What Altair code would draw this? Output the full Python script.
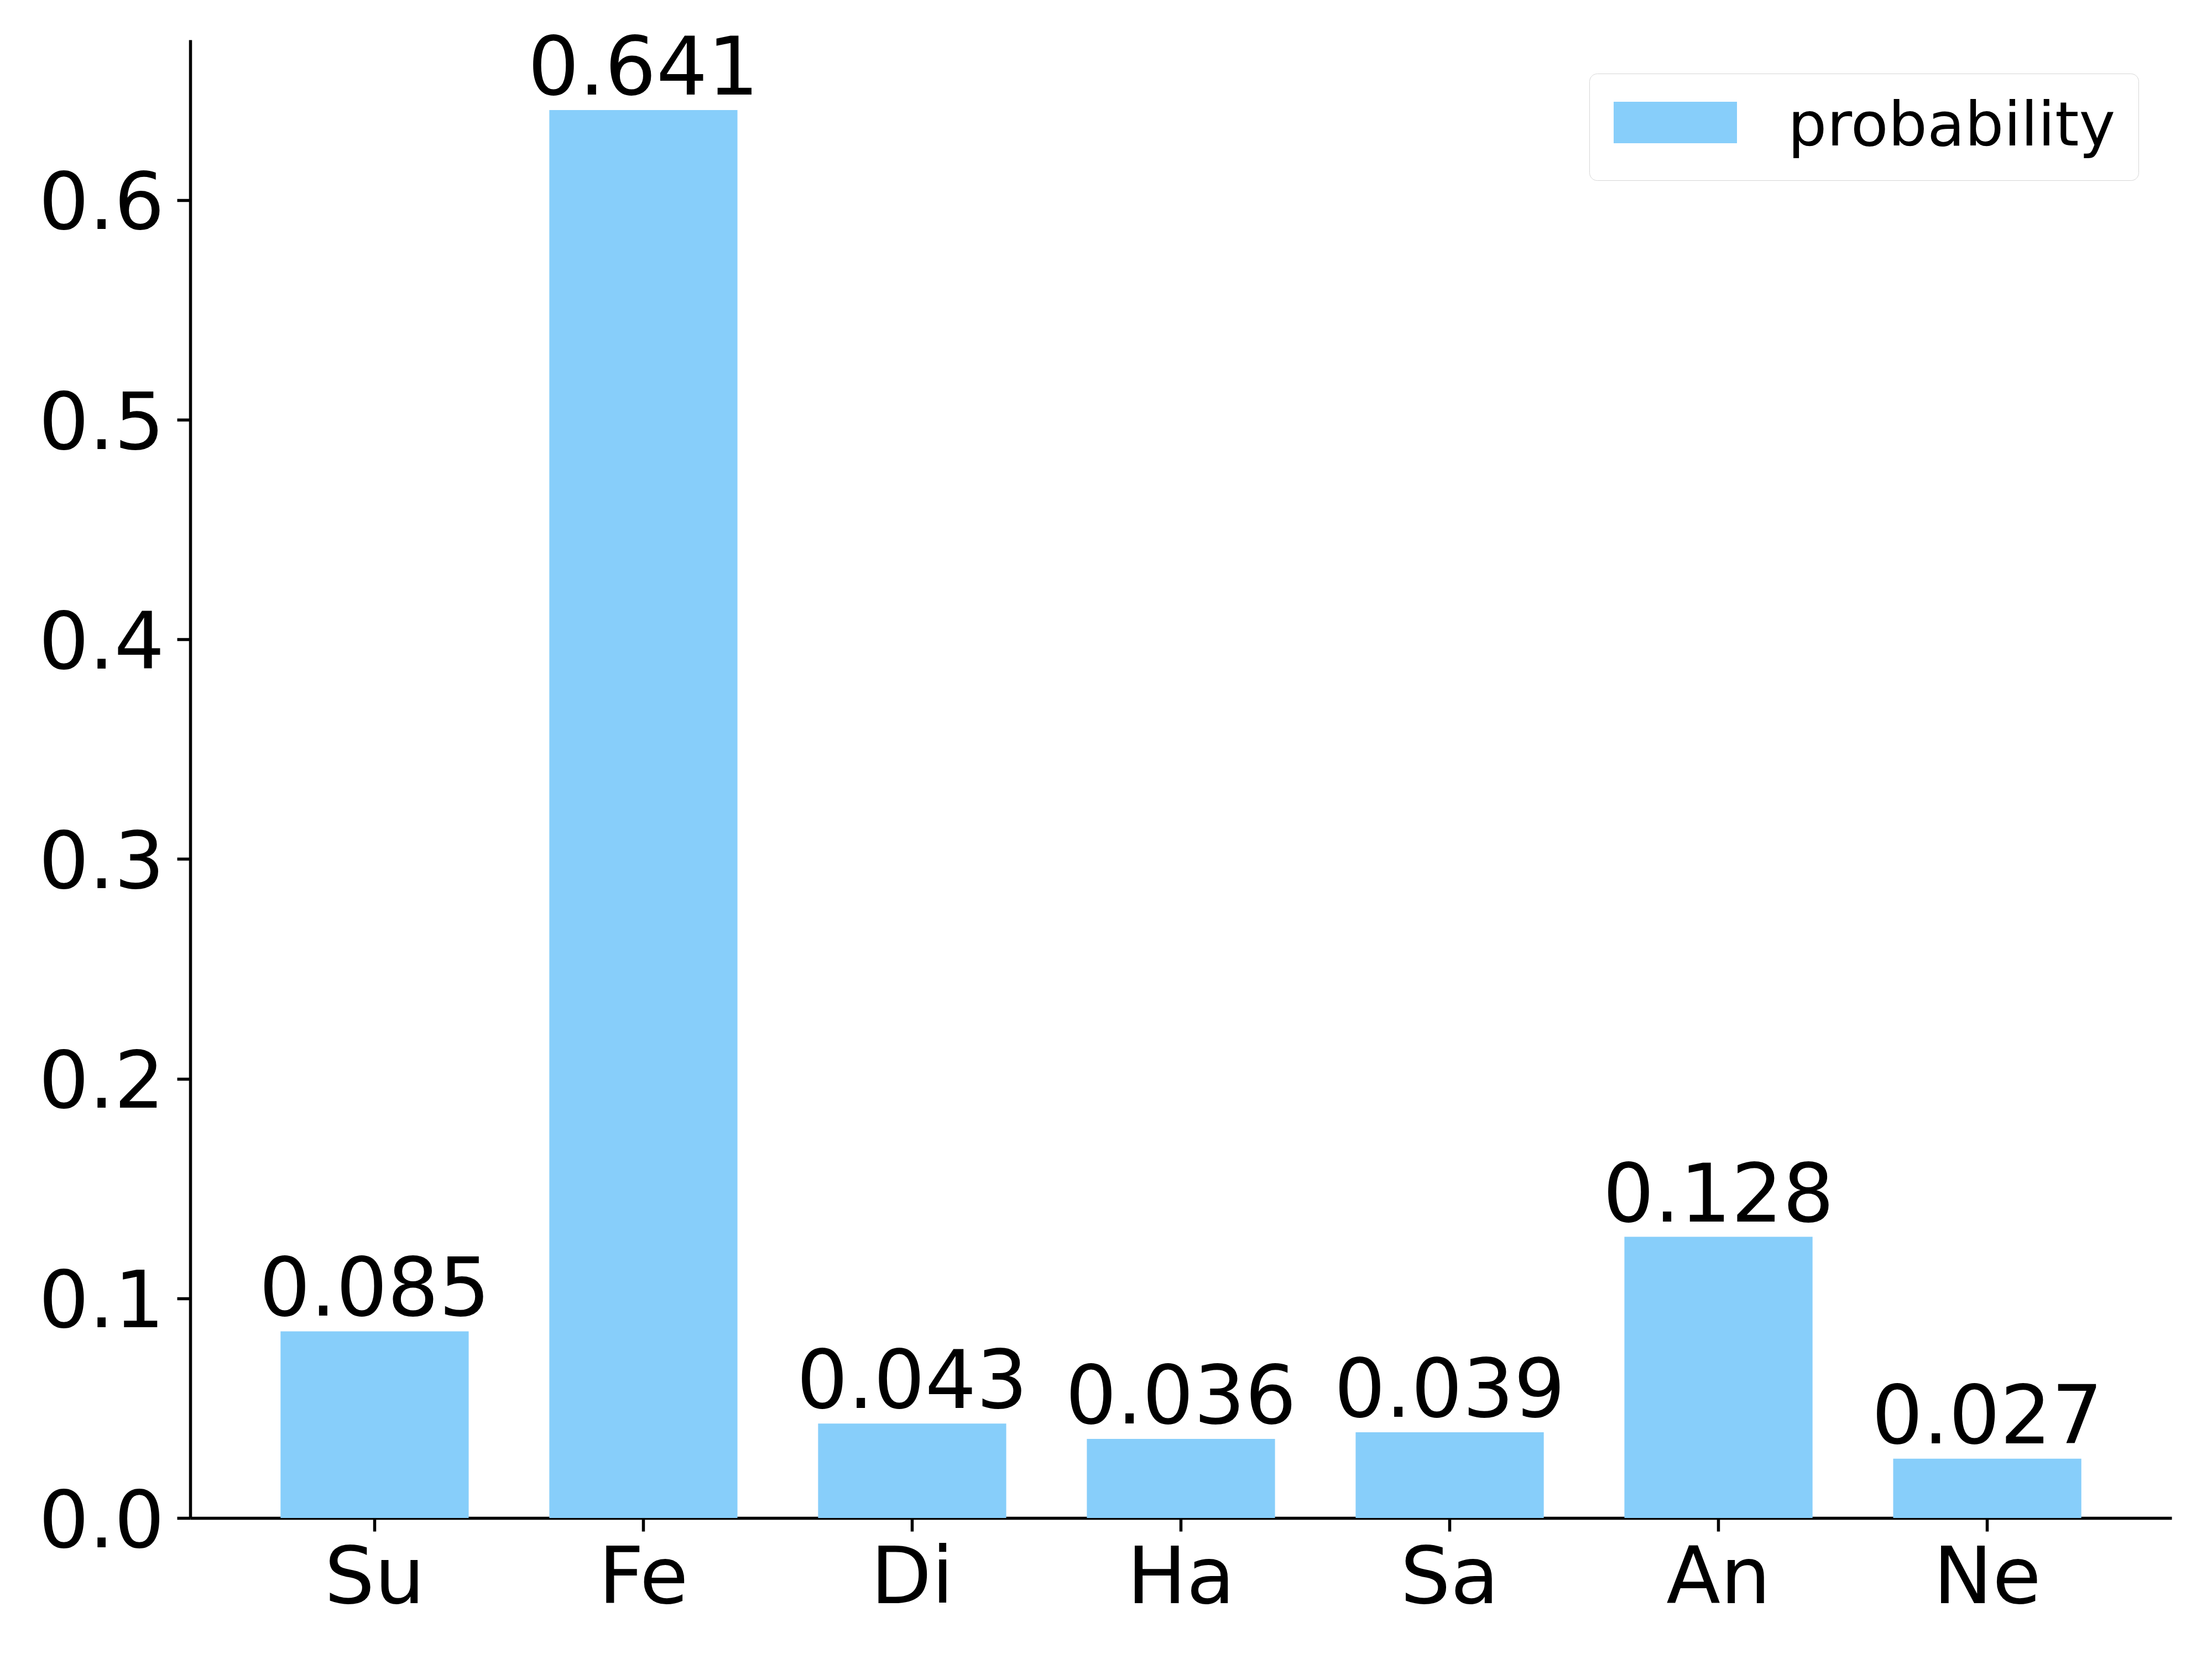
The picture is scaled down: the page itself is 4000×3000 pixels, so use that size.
import altair as alt
import pandas as pd

categories = ["Su", "Fe", "Di", "Ha", "Sa", "An", "Ne"]
values = [0.085, 0.641, 0.043, 0.036, 0.039, 0.128, 0.027]
series_name = "probability"
y_ticks = [0.0, 0.1, 0.2, 0.3, 0.4, 0.5, 0.6]

df = pd.DataFrame({"cat": categories, "val": values, "series": [series_name] * len(categories)})

FONT = "DejaVu Sans"
BAR_COLOR = "#87CEFA"

x_enc = alt.X(
    "cat:N",
    sort=categories,
    scale=alt.Scale(paddingInner=0.3, paddingOuter=0.336),
    axis=alt.Axis(
        title=None, labelAngle=0, labelFontSize=143, labelFont=FONT, labelColor="black",
        tickSize=24, tickWidth=5.5, tickColor="black", domainWidth=5.5, domainColor="black",
        labelPadding=16, grid=False, labelLimit=0,
    ),
)
y_scale = alt.Scale(domain=[0, 0.673], nice=False, zero=True)

bars = alt.Chart(df).mark_bar().encode(
    x=x_enc,
    y=alt.Y(
        "val:Q",
        scale=y_scale,
        axis=alt.Axis(
            title=None, values=y_ticks, format=".1f", labelFontSize=143, labelFont=FONT,
            labelColor="black", tickSize=24, tickWidth=5.5, tickColor="black",
            domainWidth=5.5, domainColor="black", labelPadding=23, grid=False, labelOffset=9,
            labelLimit=0,
        ),
    ),
    color=alt.Color(
        "series:N",
        scale=alt.Scale(range=[BAR_COLOR]),
        legend=alt.Legend(
            title=None, orient="none", legendX=2530, legendY=61,
            symbolType="M-1.4,-1.213H4.547V0.787H-1.4Z", symbolSize=5625, symbolStrokeWidth=0,
            labelFontSize=111, labelFont=FONT, labelColor="black", labelOffset=207,
            labelLimit=0, padding=41, strokeColor="#d6d6d6", cornerRadius=14,
            fillColor="white",
        ),
    ),
)

labels = alt.Chart(df).mark_text(
    baseline="alphabetic", align="center", dy=-28, fontSize=146, font=FONT, color="black"
).encode(
    x=alt.X("cat:N", sort=categories),
    y=alt.Y("val:Q", scale=y_scale),
    text=alt.Text("val:Q", format=".3f"),
)

chart = (
    alt.layer(bars, labels)
    .properties(
        width=3583, height=2673,
        autosize=alt.AutoSizeParams(type="none"),
        padding={"left": 336, "top": 64, "right": 65, "bottom": 247},
        view=alt.ViewBackground(stroke=None, strokeWidth=0),
    )
    .configure_view(strokeWidth=0, stroke=None, strokeOpacity=0)
    .configure_legend(strokeWidth=6)
    .configure(background="white")
)

chart.save("out.html", embed_options={"renderer": "svg", "actions": False})
